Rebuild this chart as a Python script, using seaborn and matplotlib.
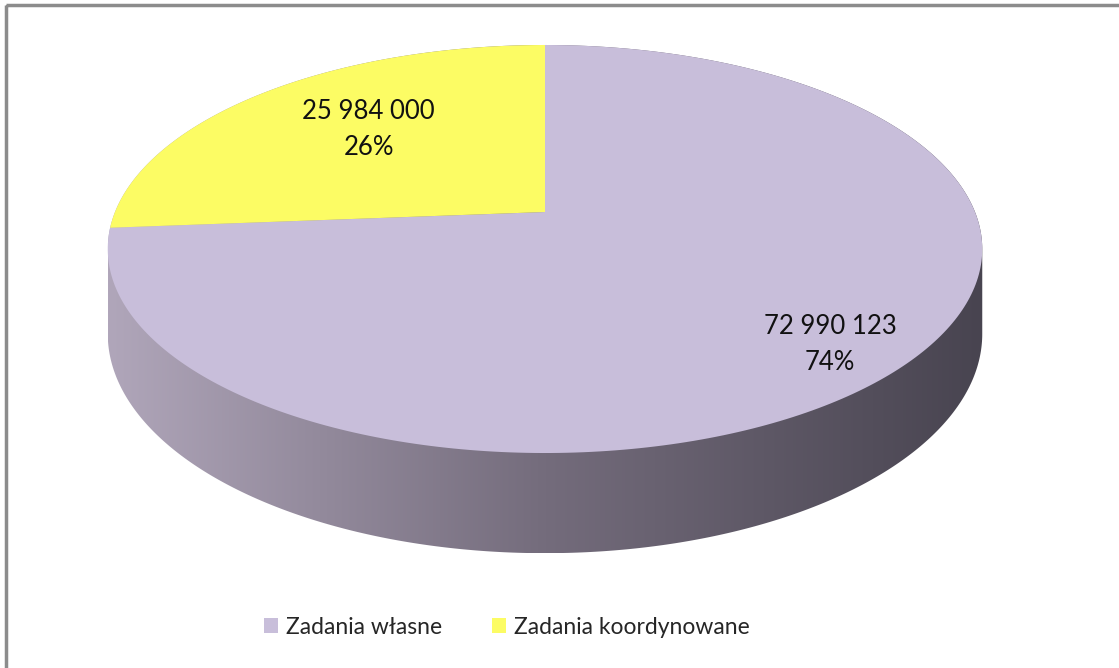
import numpy as np
import matplotlib
matplotlib.use("Agg")
import matplotlib.pyplot as plt
from matplotlib.patches import Polygon, Rectangle
import seaborn as sns

# data
labels = ["Zadania własne", "Zadania koordynowane"]
values = [72990123, 25984000]
value_text = ["72 990 123", "25 984 000"]
colors = ["#C8BEDA", "#FCFC64"]

sns.set_style("white")
plt.rcParams['font.family'] = ['Lato', 'DejaVu Sans']

W, H = 1119, 668
fig = plt.figure(figsize=(W / 100, H / 100), dpi=100)
ax = fig.add_axes([0, 0, 1, 1])
ax.set_xlim(0, W)
ax.set_ylim(H, 0)
ax.axis("off")

# pie geometry (perspective projection of a flat disk)
cx, cy = 545, 212
k = 430
c = 0.1814
a = -158.84
depth = 82


def project(t, r=1.0, drop=0.0):
    z = r * np.sin(t)
    X = r * np.cos(t)
    d = 1 + c * z
    return cx + k * X / d, (a * z + cy) / d + drop / d


# side of the cylinder: convex hull of top and bottom rims
tt = np.linspace(0, 2 * np.pi, 721)
xt, yt = project(tt)
xb, yb = project(tt, drop=depth)
pts = np.vstack([np.column_stack([xt, yt]), np.column_stack([xb, yb])])
pts = pts[np.lexsort((pts[:, 1], pts[:, 0]))]


def cross(o, p, q):
    return (p[0] - o[0]) * (q[1] - o[1]) - (p[1] - o[1]) * (q[0] - o[0])


lower, upper = [], []
for p in pts:
    while len(lower) >= 2 and cross(lower[-2], lower[-1], p) <= 0:
        lower.pop()
    lower.append(tuple(p))
for p in pts[::-1]:
    while len(upper) >= 2 and cross(upper[-2], upper[-1], p) <= 0:
        upper.pop()
    upper.append(tuple(p))
hull = np.array(lower[:-1] + upper[:-1])

side = Polygon(hull, closed=True, facecolor="none", edgecolor="none")
ax.add_patch(side)
x0, x1 = hull[:, 0].min(), hull[:, 0].max()
y0, y1 = hull[:, 1].min(), hull[:, 1].max()
left_col = np.array([176, 166, 186]) / 255
mid_col = np.array([116, 108, 124]) / 255
right_col = np.array([72, 68, 80]) / 255
s = np.linspace(0, 1, 400)
grad = np.where(s[:, None] < 0.5,
                left_col + (mid_col - left_col) * (s[:, None] / 0.5),
                mid_col + (right_col - mid_col) * ((s[:, None] - 0.5) / 0.5))
img = ax.imshow(grad[None, :, :], extent=[x0, x1, y1, y0], aspect="auto",
                interpolation="bilinear", zorder=1)
img.set_clip_path(side)

# top face wedges: first slice clockwise from 12 o'clock
total = sum(values)
start = np.pi / 2
label_r = [0.8, 0.6]
label_dy = [14, 0]
for i, v in enumerate(values):
    sweep = 2 * np.pi * v / total
    arc = np.linspace(start, start - sweep, 300)
    ax_, ay_ = project(arc)
    poly = np.vstack([[cx, cy], np.column_stack([ax_, ay_])])
    ax.add_patch(Polygon(poly, closed=True, facecolor=colors[i],
                         edgecolor="none", zorder=2))
    mid = start - sweep / 2
    lx, ly = project(mid, r=label_r[i])
    pct = f"{round(100 * v / total)}%"
    ax.text(lx + 5 * (i == 0), ly + label_dy[i] - 8 * (i == 1),
            f"{value_text[i]}\n{pct}", ha="center",
            va="center", fontsize=18.5, color="#111111", linespacing=1.55,
            zorder=3)
    start -= sweep

# legend
handles = [Rectangle((0, 0), 1, 1, facecolor=col, edgecolor="none")
           for col in colors]
ax.legend(handles, labels, loc="center", bbox_to_anchor=(507 / W, 1 - 627 / H),
          ncol=2, frameon=False, fontsize=16.5, handlelength=0.6,
          handleheight=0.6, handletextpad=0.35, columnspacing=2.2)

# outer frame
ax.add_patch(Rectangle((6, 5), W + 20, H + 20, facecolor="none",
                       edgecolor="#8C8C8C", linewidth=2.5, zorder=5))

fig.savefig("out.png", dpi=100)
